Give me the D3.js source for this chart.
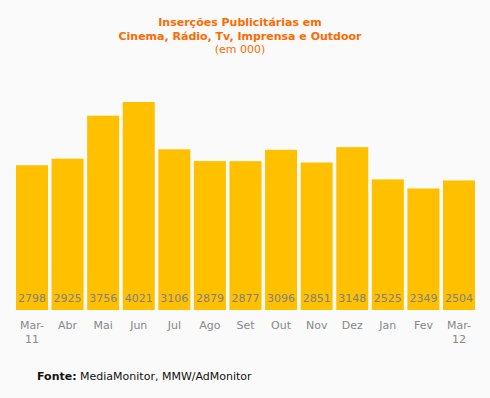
<!DOCTYPE html>
<html><head><meta charset="utf-8">
<script src="https://cdn.jsdelivr.net/npm/d3@7"></script>
<style>body{margin:0;background:#fafafa;}svg{display:block;font-family:"DejaVu Sans",Verdana,sans-serif;}</style>
</head><body>
<script>
const months = ["Mar-11","Abr","Mai","Jun","Jul","Ago","Set","Out","Nov","Dez","Jan","Fev","Mar-12"];
const values = [2798,2925,3756,4021,3106,2879,2877,3096,2851,3148,2525,2349,2504];
const titleLines = ["Inserções Publicitárias em","Cinema, Rádio, Tv, Imprensa e Outdoor"];
const subtitle = "(em 000)";

const W=490,H=398;
const svg=d3.select("body").append("svg").attr("width",W).attr("height",H);
svg.append("rect").attr("width",W).attr("height",H).attr("fill","#fafafa");

const x=d3.scaleBand().domain(months).range([14.2,476.8]).paddingInner(0.1).paddingOuter(0.05);
const y=d3.scaleLinear().domain([0,4021]).range([310,102]);

svg.selectAll("rect.bar").data(values).join("rect").attr("class","bar")
  .attr("x",(d,i)=>x(months[i])).attr("width",x.bandwidth())
  .attr("y",d=>y(d)).attr("height",d=>y(0)-y(d)).attr("fill","#ffc000");

svg.selectAll("text.val").data(values).join("text").attr("class","val")
  .attr("x",(d,i)=>x(months[i])+x.bandwidth()/2).attr("y",302)
  .attr("text-anchor","middle").attr("font-size",11).attr("fill","#808080").text(d=>d);

const xl=svg.selectAll("text.xl").data(months).join("text").attr("class","xl")
  .attr("x",d=>x(d)+x.bandwidth()/2).attr("y",329)
  .attr("text-anchor","middle").attr("font-size",11).attr("fill","#888888");
xl.each(function(d){
  const parts=d.includes("-")?[d.split("-")[0]+"-",d.split("-")[1]]:[d];
  d3.select(this).selectAll("tspan").data(parts).join("tspan")
    .attr("x",x(d)+x.bandwidth()/2).attr("dy",(p,i)=>i?14:0).text(p=>p);
});

svg.selectAll("text.title").data(titleLines).join("text").attr("class","title")
  .attr("x",240).attr("y",(d,i)=>26+i*14).attr("text-anchor","middle")
  .attr("font-size",11).attr("font-weight","bold").attr("fill","#ff6a00").text(d=>d);
svg.append("text").attr("x",240).attr("y",53).attr("text-anchor","middle")
  .attr("font-size",11).attr("fill","#ff6a00").text(subtitle);

const f=svg.append("text").attr("x",37).attr("y",380).attr("font-size",11).attr("fill","#111");
f.append("tspan").attr("font-weight","bold").text("Fonte:");
f.append("tspan").text(" MediaMonitor, MMW/AdMonitor");
</script>
</body></html>
